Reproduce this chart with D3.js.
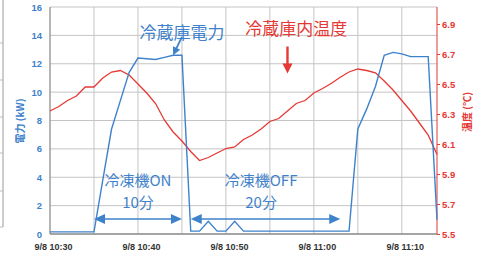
<!DOCTYPE html>
<html>
<head>
<meta charset="utf-8">
<script src="https://cdn.jsdelivr.net/npm/d3@7"></script>
<style>
  body { margin: 0; background: #fff; }
  svg { display: block; }
</style>
</head>
<body>
<script>
// minutes after 9/8 10:30
const powerMinutes = [0, 5, 6, 7, 8, 9, 10, 11, 12, 13, 14, 15, 16, 17, 18, 19, 20, 21, 22, 34, 35, 36, 37, 38, 39, 40, 41, 42, 43, 44];
const powerKW = [0.15, 0.15, 3.8, 7.4, 9.4, 11.4, 12.4, 12.35, 12.3, 12.45, 12.6, 12.6, 0.2, 0.2, 0.9, 0.2, 0.2, 0.9, 0.2, 0.2, 7.4, 8.8, 10.4, 12.6, 12.8, 12.7, 12.5, 12.5, 12.5, 1.0];

const tempMinutes = d3.range(0, 45);
const tempC = [6.32, 6.35, 6.39, 6.42, 6.48, 6.48, 6.54, 6.58, 6.59, 6.56,
               6.50, 6.44, 6.37, 6.26, 6.18, 6.12, 6.05, 5.99, 6.01, 6.04,
               6.07, 6.08, 6.13, 6.16, 6.20, 6.25, 6.27, 6.32, 6.37, 6.39,
               6.44, 6.47, 6.505, 6.545, 6.58, 6.60, 6.59, 6.575, 6.52, 6.46,
               6.39, 6.32, 6.24, 6.16, 6.03];

const kwTicks = [0, 2, 4, 6, 8, 10, 12, 14, 16];
const tempTicks = [5.5, 5.7, 5.9, 6.1, 6.3, 6.5, 6.7, 6.9];
const timeTicks = ["10:30", "10:40", "10:50", "11:00", "11:10"];

const W = 483, H = 257;
const mLeft = 50, mRight = 437, mTop = 7, mBottom = 234;
const blue = "#3f82cc", red = "#e53935";
const t0 = new Date(2000, 8, 8, 10, 30);
const at = m => d3.timeMinute.offset(t0, m);
const parseHM = d3.timeParse("%H:%M");
const tick = s => { const p = parseHM(s); return new Date(2000, 8, 8, p.getHours(), p.getMinutes()); };

const x = d3.scaleTime().domain([t0, at(44)]).range([mLeft, mRight]);
const yP = d3.scaleLinear().domain([0, 16]).range([mBottom, mTop]);
const yT = d3.scaleLinear().domain([5.5, 7.0]).range([mBottom, mTop + 2]);

const svg = d3.select("body").append("svg").attr("width", W).attr("height", H);

// piece of the neighbouring chart cut off at the left
svg.append("line").attr("x1", 3).attr("x2", 3).attr("y1", 0).attr("y2", 227)
  .attr("stroke", "#9a9a9a");
svg.selectAll(".frag").data([43, 80, 117, 153, 191, 227]).enter().append("line")
  .attr("x1", 0).attr("x2", 3).attr("y1", d => d).attr("y2", d => d)
  .attr("stroke", "#bbb");

// grid
svg.append("g").selectAll("line").data(kwTicks).enter().append("line")
  .attr("x1", mLeft).attr("x2", mRight)
  .attr("y1", d => yP(d)).attr("y2", d => yP(d))
  .attr("stroke", "#c4c4c4");
svg.append("g").selectAll("line").data(d3.range(0, 44, 5).map(at)).enter().append("line")
  .attr("x1", d => x(d)).attr("x2", d => x(d))
  .attr("y1", mTop).attr("y2", mBottom)
  .attr("stroke", "#c4c4c4");
svg.append("line").attr("x1", mLeft).attr("x2", mLeft).attr("y1", mTop).attr("y2", mBottom).attr("stroke", "#8a8a8a");
svg.append("line").attr("x1", mLeft).attr("x2", mRight).attr("y1", mBottom).attr("y2", mBottom).attr("stroke", "#6a6a6a");

// axes
const axisFont = "'Liberation Sans', Arial, sans-serif";
const gl = svg.append("g").attr("transform", `translate(${mLeft},0)`)
  .call(d3.axisLeft(yP).tickValues(kwTicks).tickSize(0).tickPadding(8));
gl.select(".domain").remove();
gl.selectAll("text").attr("fill", blue).attr("font-weight", "bold")
  .attr("font-size", 9.5).attr("font-family", axisFont);

const gr = svg.append("g").attr("transform", `translate(${mRight},0)`)
  .call(d3.axisRight(yT).tickValues(tempTicks).tickSize(3).tickPadding(2).tickFormat(d3.format(".1f")));
gr.select(".domain").attr("stroke", red).attr("d", `M0,${mTop}V${mBottom}`);
gr.selectAll("line").attr("stroke", red);
gr.selectAll("text").attr("fill", red).attr("font-weight", "bold")
  .attr("font-size", 9.5).attr("font-family", axisFont);

const gb = svg.append("g").attr("transform", `translate(0,${mBottom})`)
  .call(d3.axisBottom(x).tickValues(timeTicks.map(tick)).tickSize(0).tickPadding(10)
    .tickFormat(d => "9/8 " + d3.timeFormat("%H:%M")(d)));
gb.select(".domain").remove();
gb.selectAll("text").attr("fill", "#333").attr("font-weight", "bold")
  .attr("font-size", 9).attr("font-family", axisFont).attr("dx", 3);

svg.append("text").attr("transform", "translate(21,121) rotate(-90)")
  .attr("text-anchor", "middle").attr("dominant-baseline", "middle")
  .attr("fill", blue).attr("font-size", 10).attr("font-weight", "bold")
  .attr("font-family", "'Noto Sans CJK JP', sans-serif").text("電力 (kW)");
svg.append("text").attr("transform", "translate(468,112) rotate(-90)")
  .attr("text-anchor", "middle").attr("dominant-baseline", "middle")
  .attr("fill", red).attr("font-size", 10).attr("font-weight", "bold")
  .attr("font-family", "'Noto Sans CJK JP', sans-serif").text("温度 (℃)");

// series
const tempLine = d3.line().x((d, i) => x(at(tempMinutes[i]))).y(d => yT(d));
svg.append("path").datum(tempC).attr("d", tempLine)
  .attr("fill", "none").attr("stroke", red).attr("stroke-width", 1.3);

const powerLine = d3.line().x((d, i) => x(at(powerMinutes[i]))).y(d => yP(d));
svg.append("path").datum(powerKW).attr("d", powerLine)
  .attr("fill", "none").attr("stroke", blue).attr("stroke-width", 1.4);

// annotations
const jp = "'Noto Sans CJK JP', sans-serif";
function label(txt, cx, cy, col, size) {
  svg.append("text").attr("x", cx).attr("y", cy)
    .attr("text-anchor", "middle").attr("dominant-baseline", "central")
    .attr("fill", col).attr("font-size", size).attr("font-family", jp).text(txt);
}
function head(tx, ty, angle, len, half, col) {
  const a = angle * Math.PI / 180;
  const bx = tx - len * Math.cos(a), by = ty - len * Math.sin(a);
  const px = -Math.sin(a) * half, py = Math.cos(a) * half;
  svg.append("path")
    .attr("d", `M${tx},${ty}L${bx + px},${by + py}L${bx - px},${by - py}Z`)
    .attr("fill", col);
}
function arrow(x1, y1, x2, y2, w, len, half, col) {
  const a = Math.atan2(y2 - y1, x2 - x1);
  svg.append("line").attr("x1", x1).attr("y1", y1)
    .attr("x2", x2 - (len - 1) * Math.cos(a)).attr("y2", y2 - (len - 1) * Math.sin(a))
    .attr("stroke", col).attr("stroke-width", w);
  head(x2, y2, a * 180 / Math.PI, len, half, col);
}
function dblArrow(m1, m2, kw) {
  const x1 = x(at(m1)), x2 = x(at(m2)), yy = yP(kw);
  svg.append("line").attr("x1", x1 + 6).attr("x2", x2 - 6).attr("y1", yy).attr("y2", yy)
    .attr("stroke", blue).attr("stroke-width", 1.4);
  head(x1, yy, 180, 11, 5, blue);
  head(x2, yy, 0, 11, 5, blue);
}

label("冷蔵庫電力", x(at(15.6)), yP(14.3), blue, 17);
arrow(x(at(15)), yP(13.9), x(at(14)), yP(12.6), 1.8, 8, 4, blue);

label("冷蔵庫内温度", x(at(28.3)), yT(6.875), red, 17);
arrow(x(at(27.6)), yT(6.75), x(at(27.6)), yT(6.57), 2.4, 10, 5, red);

label("冷凍機ON", x(at(10.4)), yP(3.82), blue, 15);
label("10分", x(at(10.4)), yP(2.3), blue, 15);
label("冷凍機OFF", x(at(24.2)), yP(3.82), blue, 15);
label("20分", x(at(24.2)), yP(2.3), blue, 15);
dblArrow(5.45, 15.9, 1.06);
dblArrow(16.25, 33.75, 1.06);
</script>
</body>
</html>
